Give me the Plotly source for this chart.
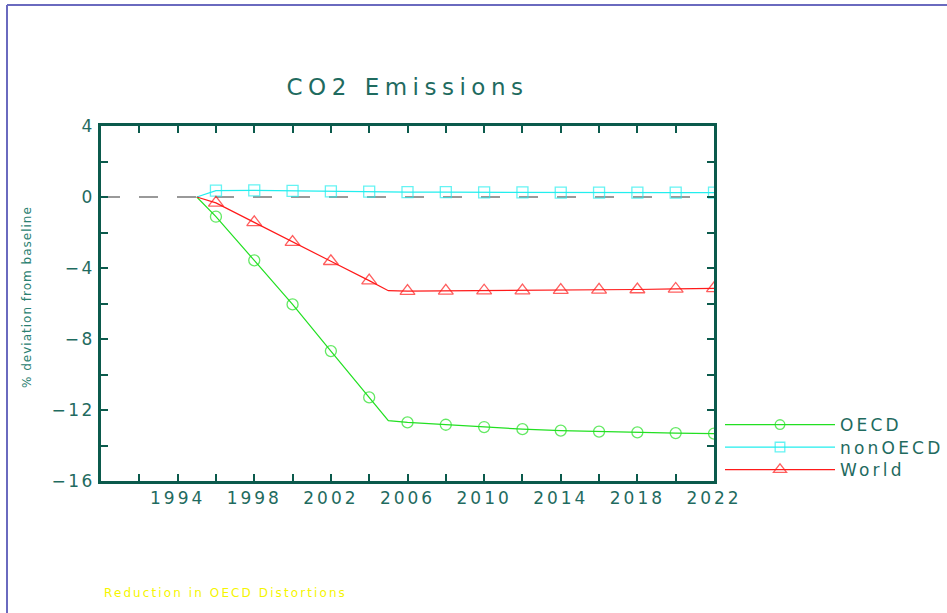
import plotly.graph_objects as go

# ---- data ----
years = [1995, 1996, 1998, 2000, 2002, 2004, 2005, 2006, 2008, 2010, 2012, 2014, 2016, 2018, 2020, 2022]
oecd = [0.0, -1.11, -3.57, -6.05, -8.68, -11.29, -12.60, -12.70, -12.83, -12.96, -13.08, -13.16, -13.22, -13.26, -13.30, -13.33]
non_oecd = [0.0, 0.36, 0.37, 0.34, 0.32, 0.30, 0.29, 0.28, 0.27, 0.26, 0.26, 0.25, 0.25, 0.25, 0.25, 0.25]
world = [0.0, -0.33, -1.43, -2.54, -3.62, -4.71, -5.28, -5.30, -5.29, -5.28, -5.27, -5.25, -5.23, -5.21, -5.18, -5.15]
# years without a plotted marker (line vertices only)
unmarked_years = [1995, 2005]

series_names = ["OECD", "nonOECD", "World"]
x_tick_labels = ["1994", "1998", "2002", "2006", "2010", "2014", "2018", "2022"]
y_tick_labels = [4, 0, -4, -8, -12, -16]

title_text = "CO2 Emissions"
y_title = "% deviation from baseline"
footer = "Reduction in OECD Distortions"

# ---- styling ----
TEAL = "#0b5a4c"
TXT = "#1f6b5f"
colors = ["#22e022", "#22eeee", "#ff1a1a"]
symbols = ["circle-open", "square-open", "triangle-up-open"]
marker_sizes = [11, 11, 13]
FONT = "DejaVu Sans"


def spaced(s, px):
    return f'<span style="letter-spacing:{px}px">{s}</span>'


W, H = 947, 613
L, R, T, B = 101, 714, 126, 481


def px_x(p):
    return (p - L) / (R - L)


def px_y(p):
    return (B - p) / (B - T)


legend_ids = ["legend", "legend2", "legend3"]
legend_rows = [425, 447.5, 470]

fig = go.Figure()
for name, vals, col, sym, ms, lid in zip(series_names, [oecd, non_oecd, world], colors, symbols,
                                         marker_sizes, legend_ids):
    sizes = [0 if y in unmarked_years else ms for y in years]
    fig.add_trace(go.Scatter(
        x=years, y=vals, name=spaced(name, 3.2), mode="lines+markers", legend=lid,
        line=dict(color=col, width=1.2),
        marker=dict(symbol=sym, size=sizes, color=col, line=dict(color=col, width=1.3)),
    ))

# x ticks every 2 years, labels every 4
x_ticks = list(range(1992, 2023, 2))
x_text = [spaced(str(v), 3) if str(v) in x_tick_labels else "" for v in x_ticks]
y_ticks = list(range(-16, 5, 2))
y_text = [spaced(str(v).replace("-", "\u2212"), 2.5) if v in y_tick_labels else "" for v in y_ticks]

axis_common = dict(
    showline=True, linecolor=TEAL, linewidth=2.5, mirror="ticks",
    ticks="inside", ticklen=7, tickcolor=TEAL, tickwidth=1.5,
    showgrid=False, zeroline=False,
    tickfont=dict(family=FONT, size=17, color=TXT),
)
fig.update_xaxes(range=[1990, 2022], tickmode="array", tickvals=x_ticks, ticktext=x_text, **axis_common)
fig.update_yaxes(range=[-16, 4], tickmode="array", tickvals=y_ticks, ticktext=y_text, **axis_common)

fig.add_shape(type="line", xref="paper", x0=0, x1=1, yref="y", y0=0, y1=0,
              line=dict(color="#999999", width=1.8, dash="19px,19px"), layer="below")

# page border lines (top and left)
border = "#6a6abf"
fig.add_shape(type="line", xref="paper", yref="paper", x0=px_x(7), x1=px_x(947), y0=px_y(5), y1=px_y(5),
              line=dict(color=border, width=2))
fig.add_shape(type="line", xref="paper", yref="paper", x0=px_x(7), x1=px_x(7), y0=px_y(5), y1=px_y(613),
              line=dict(color=border, width=2))

fig.add_annotation(text=spaced(y_title, 1.0), xref="paper", yref="paper", x=px_x(18), y=px_y(297),
                   textangle=-90, showarrow=False, font=dict(family=FONT, size=12, color="#2a8070"))
fig.add_annotation(text=spaced(footer, 2.1), xref="paper", yref="paper", x=px_x(102), y=px_y(593),
                   xanchor="left", yanchor="middle", showarrow=False,
                   font=dict(family=FONT, size=12, color="#f5f500"))

legend_common = dict(xanchor="left", yanchor="middle", itemwidth=110,
                     font=dict(family=FONT, size=17, color=TXT), bgcolor="rgba(0,0,0,0)")

fig.update_layout(
    width=W, height=H,
    margin=dict(l=L, r=W - R, t=T, b=H - B, autoexpand=False),
    paper_bgcolor="white", plot_bgcolor="white",
    title=dict(text=spaced(title_text, 5.5), x=0.5, xref="paper", y=1 - 87 / H, yanchor="middle",
               font=dict(family=FONT, size=23, color=TXT)),
    showlegend=True,
)
layout_legends = {lid: dict(x=px_x(720), y=px_y(row), **legend_common)
                  for lid, row in zip(legend_ids, legend_rows)}
fig.update_layout(**layout_legends)

fig.write_html("out.html", config={"displayModeBar": False},
               post_script="document.body.style.margin='0';")
